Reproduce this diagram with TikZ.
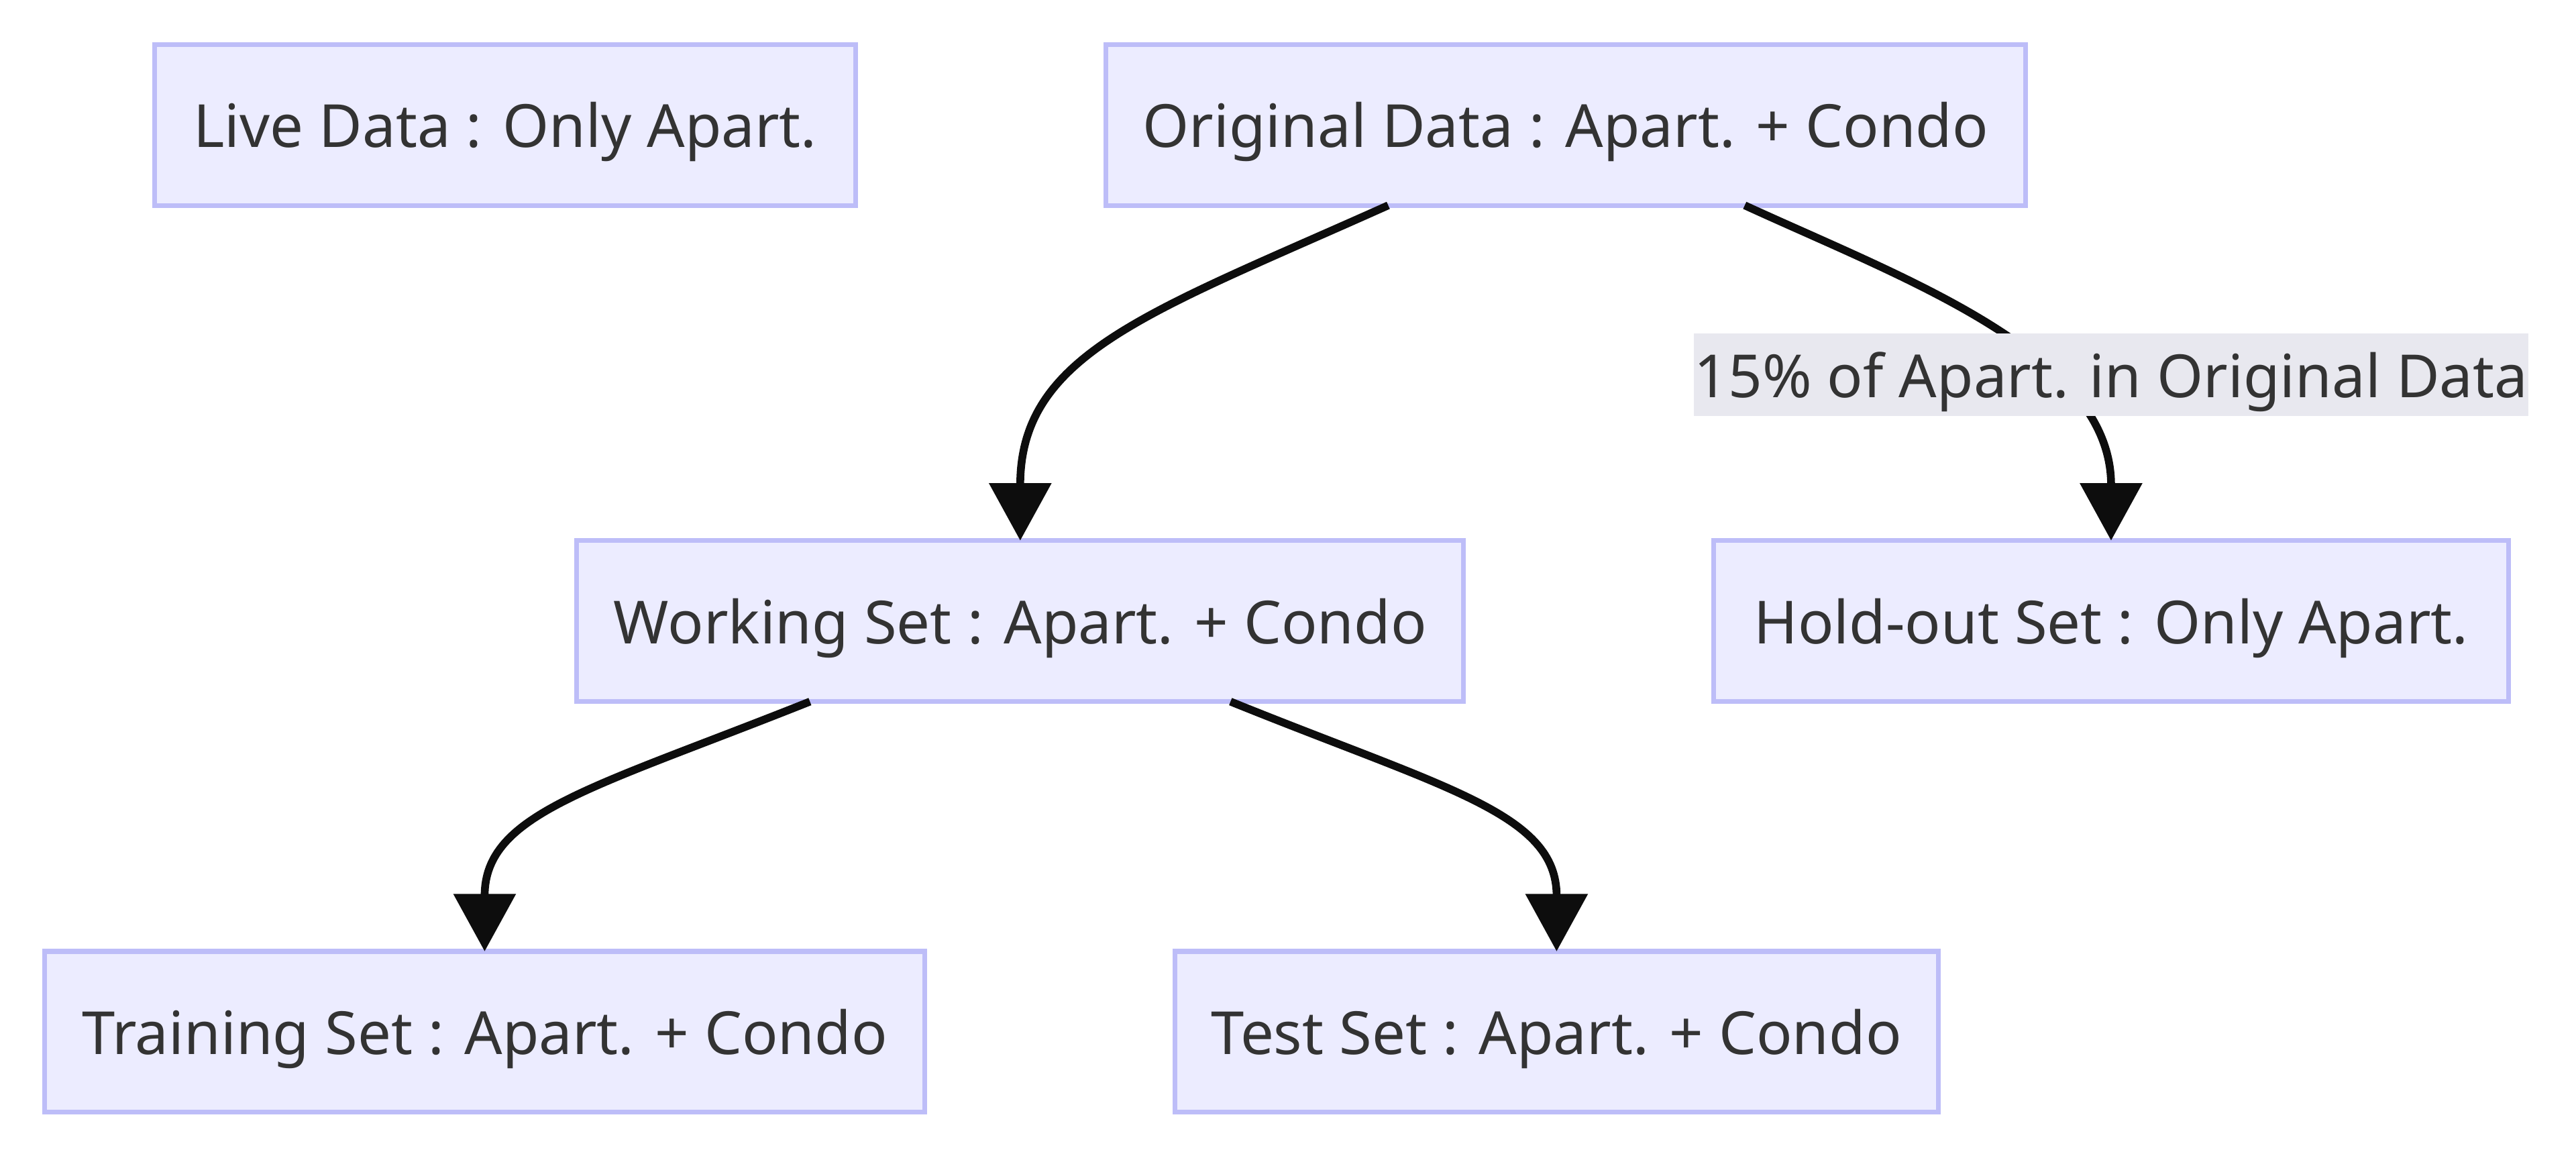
\documentclass[tikz,border=0pt]{standalone}
\usepackage{fontspec}
\setmainfont{Noto Sans}
\usetikzlibrary{arrows.meta}

\definecolor{boxfill}{HTML}{ECECFF}
\definecolor{boxline}{HTML}{BDBDF8}
\definecolor{labelfill}{HTML}{E8E8EF}
\definecolor{textgray}{HTML}{333333}
\definecolor{flowline}{HTML}{0D0D0D}

\tikzset{
  setbox/.style={draw=boxline, fill=boxfill, line width=0.058cm, text=textgray,
    minimum height=1.96cm, inner sep=0pt, outer sep=0pt, text depth=0pt,
    font=\fontsize{20.6}{24}\selectfont},
  edgelabel/.style={fill=labelfill, text=textgray, inner sep=0pt, outer sep=0pt,
    minimum width=10.16cm, minimum height=1cm, text depth=0pt,
    font=\fontsize{20.6}{24}\selectfont},
  flow/.style={draw=flowline, line width=0.095cm,
    -{Triangle[length=0.7cm, width=0.74cm]}}
}

\begin{document}
\begin{tikzpicture}[x=0.02cm, y=-0.02cm]
    \useasboundingbox (0,0) rectangle (1568,702);
    % boxes
    \node[setbox, minimum width=8.54cm]  (live)  at (307.5,76)  {Live Data : Only Apart.};
    \node[setbox, minimum width=11.2cm]  (orig)  at (953,76)    {Original Data : Apart. + Condo};
    \node[setbox, minimum width=10.8cm]  (work)  at (621,378)   {Working Set : Apart. + Condo};
    \node[setbox, minimum width=9.68cm]  (hold)  at (1285,378)  {Hold-out Set : Only Apart.};
    \node[setbox, minimum width=10.72cm] (train) at (295,628)   {Training Set : Apart. + Condo};
    \node[setbox, minimum width=9.3cm]   (test)  at (947.5,628) {Test Set : Apart. + Condo};
    % connectors
    \draw[flow] ([shift={(-108,0)}]orig.south) .. controls (700,190) and (621,215) .. (work.north);
    \draw[flow] ([shift={(109,0)}]orig.south) .. controls (1160,170) and (1285,215) .. (hold.north);
    \draw[flow] ([shift={(-128,0)}]work.south) .. controls (360,480) and (295,495) .. (train.north);
    \draw[flow] ([shift={(128,0)}]work.south) .. controls (880,480) and (947.5,495) .. (test.north);
    % label
    \node[edgelabel] (split) at (1285,228) {15\% of Apart. in Original Data};
\end{tikzpicture}
\end{document}
